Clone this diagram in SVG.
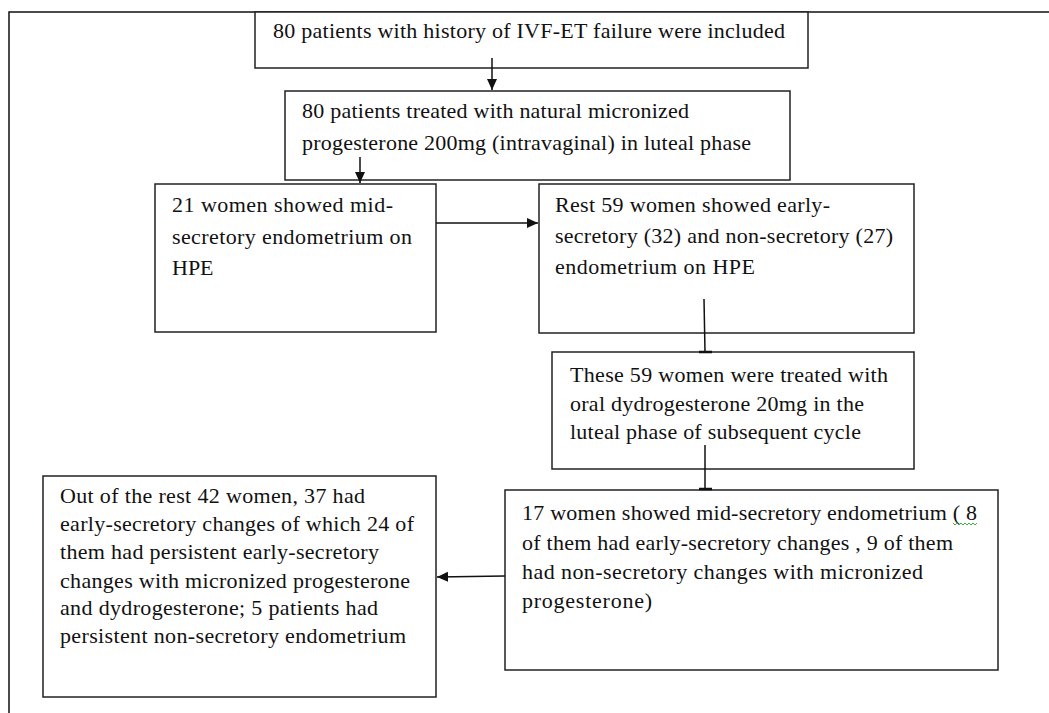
<svg xmlns="http://www.w3.org/2000/svg" width="1049" height="713" viewBox="0 0 1049 713">
<style>
.box{fill:#fff;stroke:#222;stroke-width:1.5}
.t{font-family:"Liberation Serif","Times New Roman",serif;font-size:22px;fill:#111}
.ln{stroke:#111;stroke-width:1.5;fill:none}
</style>
<defs>
<marker id="ah" markerWidth="12" markerHeight="12" refX="11" refY="6" orient="auto" markerUnits="userSpaceOnUse">
<path d="M0,1 L11,6 L0,11 Z" fill="#111"/>
</marker>
</defs>
<rect x="0" y="0" width="1049" height="713" fill="#fff"/>
<path d="M9,713 V12 H1049" class="ln"/>
<g id="n1">
<rect class="box" x="255" y="12" width="553" height="56"/>
<text class="t" x="273" y="38" textLength="512" lengthAdjust="spacing">80 patients with history of IVF-ET failure were included</text>
</g>
<g id="n2">
<rect class="box" x="285" y="91" width="505" height="89"/>
<text class="t" x="302" y="118" textLength="387" lengthAdjust="spacing">80 patients treated with natural micronized</text>
<text class="t" x="302" y="150" textLength="449" lengthAdjust="spacing">progesterone 200mg (intravaginal) in luteal phase</text>
</g>
<g id="n3">
<rect class="box" x="155" y="184" width="281" height="148"/>
<text class="t" x="172" y="212" textLength="221" lengthAdjust="spacing">21 women showed mid-</text>
<text class="t" x="172" y="244" textLength="240" lengthAdjust="spacing">secretory endometrium on</text>
<text class="t" x="172" y="275">HPE</text>
</g>
<g id="n4">
<rect class="box" x="539" y="184" width="375" height="149"/>
<text class="t" x="555" y="212" textLength="275" lengthAdjust="spacing">Rest 59 women showed early-</text>
<text class="t" x="555" y="243" textLength="338" lengthAdjust="spacing">secretory (32) and non-secretory (27)</text>
<text class="t" x="555" y="274" textLength="200" lengthAdjust="spacing">endometrium on HPE</text>
</g>
<g id="n5">
<rect class="box" x="552" y="352" width="362" height="117"/>
<text class="t" x="570" y="382" textLength="318" lengthAdjust="spacing">These 59 women were treated with</text>
<text class="t" x="570" y="411" textLength="294" lengthAdjust="spacing">oral dydrogesterone 20mg in the</text>
<text class="t" x="570" y="439" textLength="291" lengthAdjust="spacing">luteal phase of subsequent cycle</text>
</g>
<g id="n6">
<rect class="box" x="505" y="490" width="493" height="180"/>
<text class="t" x="522" y="520" textLength="455" lengthAdjust="spacing">17 women showed mid-secretory endometrium ( 8</text>
<text class="t" x="522" y="550" textLength="431" lengthAdjust="spacing">of them had early-secretory changes , 9 of them</text>
<text class="t" x="522" y="579" textLength="401" lengthAdjust="spacing">had non-secretory  changes with micronized</text>
<text class="t" x="522" y="608" textLength="130" lengthAdjust="spacing">progesterone)</text>
<path d="M953,523 l2,2 l2,-2 l2,2 l2,-2 l2,2 l2,-2 l2,2 l2,-2 l2,2 l2,-2 l2,2 l2,-2" stroke="#4a4" stroke-width="1" fill="none"/>
</g>
<g id="n7">
<rect class="box" x="43" y="476" width="393" height="221"/>
<text class="t" x="60" y="503" textLength="305" lengthAdjust="spacing">Out of the rest 42 women, 37 had</text>
<text class="t" x="60" y="531" textLength="354" lengthAdjust="spacing">early-secretory changes of which 24 of</text>
<text class="t" x="60" y="559" textLength="319" lengthAdjust="spacing">them had persistent early-secretory</text>
<text class="t" x="60" y="588" textLength="350" lengthAdjust="spacing">changes with micronized progesterone</text>
<text class="t" x="60" y="615" textLength="318" lengthAdjust="spacing">and dydrogesterone; 5 patients had</text>
<text class="t" x="60" y="643" textLength="346" lengthAdjust="spacing">persistent non-secretory endometrium</text>
</g>
<g id="connectors">
<line x1="492" y1="58" x2="492" y2="90" class="ln" marker-end="url(#ah)"/>
<line x1="360" y1="157" x2="360" y2="183" class="ln" marker-end="url(#ah)"/>
<line x1="436" y1="223" x2="538" y2="223" class="ln" marker-end="url(#ah)"/>
<line x1="704" y1="299" x2="705" y2="352" class="ln"/>
<line x1="699" y1="352" x2="712" y2="352" stroke="#111" stroke-width="2.5"/>
<line x1="705" y1="445" x2="705" y2="489" class="ln"/>
<line x1="699" y1="489" x2="712" y2="489" stroke="#111" stroke-width="2.5"/>
<line x1="505" y1="576" x2="437" y2="577" class="ln" marker-end="url(#ah)"/>
</g>
</svg>
